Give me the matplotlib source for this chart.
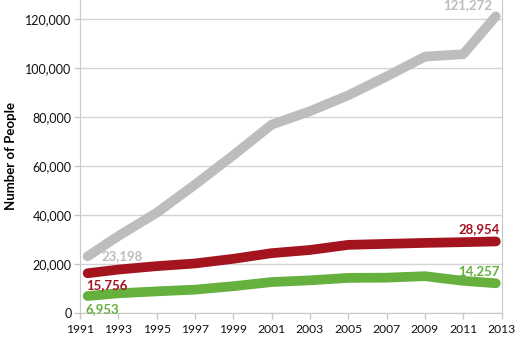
import matplotlib.pyplot as plt
from matplotlib.ticker import FuncFormatter

plt.rcParams['font.family'] = ['Lato', 'DejaVu Sans']

# data
years = [1991.4, 1993, 1995, 1997, 1999, 2001, 2003, 2005, 2007, 2009, 2011, 2012.7]
gray_vals = [23198, 31500, 41000, 52500, 64500, 77000, 82500, 89000, 96700, 104800, 105800, 121272]
red_vals = [16300, 17800, 19200, 20300, 22200, 24500, 25800, 27900, 28300, 28700, 29000, 29300]
green_vals = [7000, 8100, 8900, 9600, 11000, 12700, 13400, 14400, 14500, 15100, 13200, 12200]

tick_years = list(range(1991, 2014, 2))
y_ticks = list(range(0, 120001, 20000))

c_gray = '#bdbdbd'
c_red = '#a3141f'
c_green = '#66b03e'

fig = plt.figure(figsize=(5.16, 3.40), dpi=100)
ax = fig.add_axes([0.155, 0.079, 0.817, 0.925])

ax.plot(years, gray_vals, color=c_gray, lw=7, solid_capstyle='round', solid_joinstyle='round', zorder=3)
ax.plot(years, red_vals, color=c_red, lw=7, solid_capstyle='round', solid_joinstyle='round', zorder=3)
ax.plot(years, green_vals, color=c_green, lw=7, solid_capstyle='round', solid_joinstyle='round', zorder=3)

ax.set_xlim(1991, 2013)
ax.set_ylim(0, 128500)
ax.set_xticks(tick_years)
ax.set_yticks(y_ticks)
ax.yaxis.set_major_formatter(FuncFormatter(lambda v, p: f'{int(v):,}'))
ax.grid(axis='y', color='#d4d4d4', lw=1)
ax.set_axisbelow(True)

for s in ['left', 'right', 'bottom']:
    ax.spines[s].set_color('#c8c8c8')
ax.spines['top'].set_visible(False)
ax.tick_params(axis='both', colors='#c8c8c8', labelcolor='#111111', labelsize=9, length=4, width=1)
ax.tick_params(axis='x', pad=4, labelsize=8.7)
ax.tick_params(axis='y', pad=2)

ax.set_ylabel('Number of People', fontsize=9.5, fontweight='bold', labelpad=6)

lab_kw = dict(fontsize=9.5, fontweight='bold')
ax.text(2012.5, 123500, '121,272', color=c_gray, ha='right', va='bottom', clip_on=False, **lab_kw)
ax.text(1992.1, 23500, '23,198', color=c_gray, ha='left', va='center', **lab_kw)
ax.text(1991.3, 11600, '15,756', color=c_red, ha='left', va='center', **lab_kw)
ax.text(1991.3, 1500, '6,953', color=c_green, ha='left', va='center', **lab_kw)
ax.text(2012.9, 34500, '28,954', color=c_red, ha='right', va='center', **lab_kw)
ax.text(2012.9, 17000, '14,257', color=c_green, ha='right', va='center', **lab_kw)

fig.savefig('out.png', dpi=100)
